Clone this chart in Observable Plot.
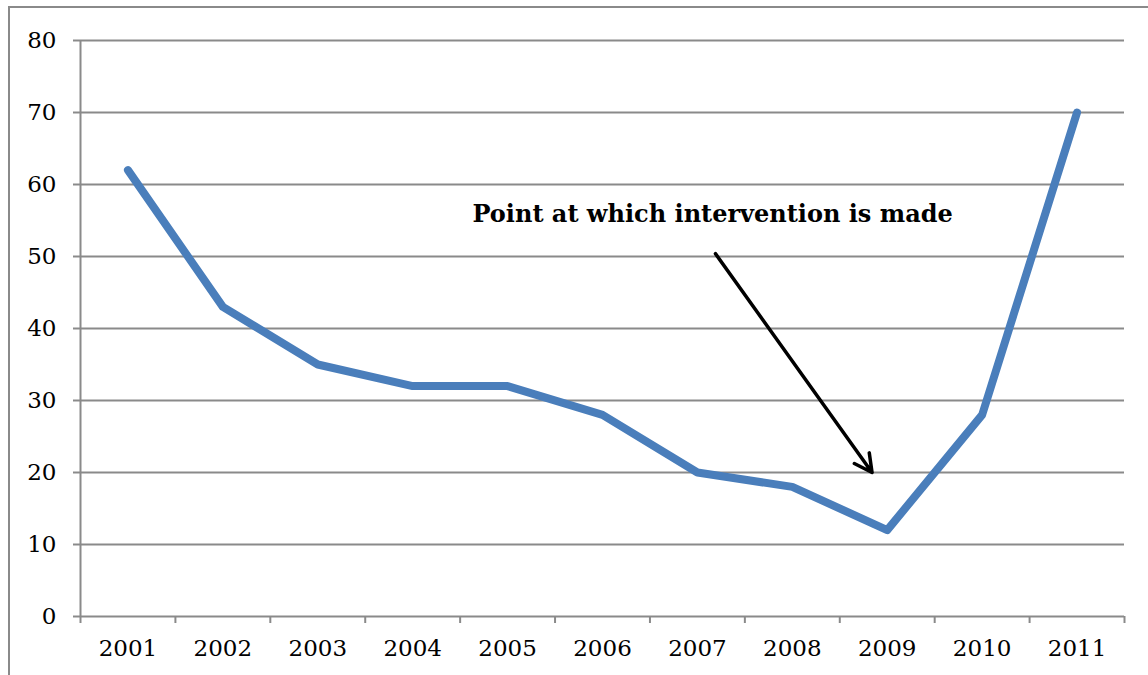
<!DOCTYPE html>
<html>
<head>
<meta charset="utf-8">
<script src="https://cdn.jsdelivr.net/npm/d3@7"></script>
<script src="https://cdn.jsdelivr.net/npm/@observablehq/plot@0.6"></script>
<style>
  html, body { margin: 0; padding: 0; background: #fff; overflow: hidden; }
  #wrap { position: relative; width: 1148px; height: 675px; }
  #frame { position: absolute; left: 8px; top: 6px; width: 1160px; height: 700px; border: 2px solid #8a8a8a; box-sizing: border-box; }
  #chart { position: absolute; left: 0; top: 0; }
</style>
</head>
<body>
<div id="wrap"><div id="frame"></div><div id="chart"></div></div>
<script>
const years = [2001, 2002, 2003, 2004, 2005, 2006, 2007, 2008, 2009, 2010, 2011];
const values = [62, 43, 35, 32, 32, 28, 20, 18, 12, 28, 70];
const yTicks = [0, 10, 20, 30, 40, 50, 60, 70, 80];
const bandEdges = [2000.5, 2001.5, 2002.5, 2003.5, 2004.5, 2005.5, 2006.5, 2007.5, 2008.5, 2009.5, 2010.5, 2011.5];
const annotation = "Point at which intervention is made";

const data = years.map((y, i) => ({year: y, value: values[i]}));
const gridColor = "#8a8a8a";

const chart = Plot.plot({
  width: 1148,
  height: 675,
  marginLeft: 80,
  marginRight: 24,
  marginTop: 40,
  marginBottom: 59,
  style: {fontFamily: "'DejaVu Serif', serif", fontSize: "23px", color: "#000", background: "transparent"},
  x: {domain: [2000.5, 2011.5], axis: null},
  y: {domain: [0, 80], axis: null},
  marks: [
    Plot.ruleY(yTicks, {stroke: gridColor, strokeWidth: 2}),
    Plot.ruleX([2000.5], {stroke: gridColor, strokeWidth: 2}),
    Plot.axisY({ticks: yTicks, tickSize: 7, tickPadding: 17, stroke: gridColor, strokeWidth: 2, fill: "#000", fontSize: 23, label: null}),
    Plot.axisX({ticks: bandEdges, tickSize: 7, stroke: gridColor, strokeWidth: 2, tickFormat: () => "", label: null}),
    Plot.axisX({ticks: years, tickSize: 0, tickPadding: 23, tickFormat: d => String(d), fill: "#000", fontSize: 23, label: null}),
    Plot.line(data, {x: "year", y: "value", stroke: "#4a7ebb", strokeWidth: 8, strokeLinejoin: "round", strokeLinecap: "round"}),
    Plot.arrow([{}], {x1: 2007.19, y1: 50.4, x2: 2008.84, y2: 20.0, stroke: "#000", strokeWidth: 3.5, headLength: 8.5, headAngle: 55}),
    Plot.text([annotation], {x: 2007.16, y: 55.8, text: d => d, fontWeight: "bold", fontSize: 24, fill: "#000", textAnchor: "middle"})
  ]
});
document.getElementById("chart").appendChild(chart);
</script>
</body>
</html>
